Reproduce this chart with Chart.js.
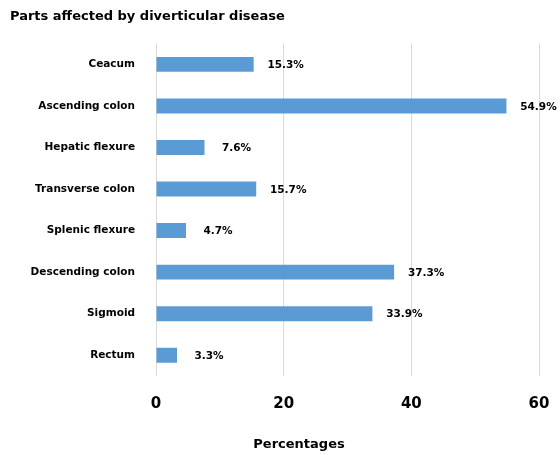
<!DOCTYPE html>
<html>
<head>
<meta charset="utf-8">
<script src="https://cdn.jsdelivr.net/npm/chart.js@4/dist/chart.umd.min.js"></script>
<style>
  html, body { margin: 0; padding: 0; background: #fff; }
  #wrap { width: 560px; height: 455px; }
</style>
</head>
<body>
<div id="wrap"><canvas id="c" width="560" height="455"></canvas></div>
<script>
const categories = ['Ceacum', 'Ascending colon', 'Hepatic flexure', 'Transverse colon',
                    'Splenic flexure', 'Descending colon', 'Sigmoid', 'Rectum'];
const percentages = [15.3, 54.9, 7.6, 15.7, 4.7, 37.3, 33.9, 3.3];
const xTicks = [0, 20, 40, 60];
const xAxisTitle = 'Percentages';

const FONT = "'DejaVu Sans', Verdana, sans-serif";

// Writes the percentage just past the end of each bar, and the x-axis caption
const valueLabels = {
  id: 'valueLabels',
  afterDatasetsDraw(chart) {
    const ctx = chart.ctx;
    const meta = chart.getDatasetMeta(0);
    ctx.save();
    ctx.font = 'bold 10.5px ' + FONT;
    ctx.fillStyle = '#000';
    ctx.textAlign = 'center';
    ctx.textBaseline = 'middle';
    meta.data.forEach((bar, i) => {
      ctx.fillText(percentages[i].toFixed(1) + '%', bar.x + 32, bar.y + 1);
    });
    ctx.font = 'bold 13px ' + FONT;
    ctx.fillText(xAxisTitle, 299, 445);
    ctx.restore();
  }
};

new Chart(document.getElementById('c'), {
  type: 'bar',
  data: {
    labels: categories,
    datasets: [{
      data: percentages,
      backgroundColor: '#5B9BD5',
      borderWidth: 0,
      barPercentage: 0.6,
      categoryPercentage: 0.6
    }]
  },
  options: {
    indexAxis: 'y',
    responsive: false,
    animation: false,
    layout: { padding: { left: 10, right: 21, top: 0, bottom: 0 } },
    plugins: {
      legend: { display: false },
      tooltip: { enabled: false },
      title: {
        display: true,
        text: 'Parts affected by diverticular disease',
        align: 'start',
        color: '#000',
        font: { family: FONT, size: 13, weight: 'bold' },
        padding: { top: 9, bottom: 19 }
      }
    },
    scales: {
      x: {
        min: 0,
        max: 60,
        afterBuildTicks(axis) { axis.ticks = xTicks.map(v => ({ value: v })); },
        afterFit(axis) {
          axis.height = 79;
          axis.paddingLeft = 0;
          axis.paddingRight = 0;
        },
        grid: { color: '#d9d9d9', drawTicks: false },
        border: { display: false },
        ticks: {
          padding: 19,
          color: '#000',
          font: { family: FONT, size: 15, weight: 'bold' }
        }
      },
      y: {
        afterFit(axis) { axis.width = 146; },
        grid: { display: false, drawTicks: false },
        border: { display: false },
        ticks: {
          padding: 21,
          color: '#000',
          font: { family: FONT, size: 10.5, weight: 'bold' }
        }
      }
    }
  },
  plugins: [valueLabels]
});
</script>
</body>
</html>
